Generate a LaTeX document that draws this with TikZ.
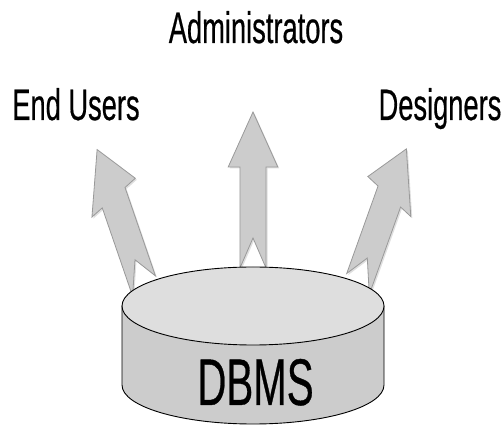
\documentclass[tikz,border=0pt]{standalone}
\usepackage{fontspec}
\setmainfont{Liberation Sans}
\newfontfamily\heavysans{Liberation Sans}[FakeBold=0.6]
\usetikzlibrary{shadows}

\def\arrowLen{156}
\def\headLen{55}
\def\headHalf{40}
\def\shaftHalf{21}
\def\notchDepth{30}

\def\cx{253}
\def\topY{122}
\def\botY{43}
\def\rx{131}
\def\ry{39}

\begin{document}
\begin{tikzpicture}[x=1pt, y=1pt,
    label/.style={font=\heavysans\fontsize{44}{50}\selectfont, xscale=0.62, anchor=base, inner sep=0pt},
    dbmstext/.style={font=\heavysans\fontsize{66}{70}\selectfont, xscale=0.61, anchor=base, inner sep=0pt},
    blockarrow/.style={fill=gray!40, draw=gray!80, line width=0.8pt, line join=miter,
      drop shadow={shadow xshift=1.5pt, shadow yshift=-1.5pt, opacity=0.25}},
    cylside/.style={fill=gray!40, draw=black, line width=0.9pt},
    cyltop/.style={fill=gray!26, draw=black, line width=0.9pt}]
      \useasboundingbox (0,0) rectangle (503,428);
      \node[label] (admin) at (256,385) {Administrators};
      \node[label] (endusers) at (76,308) {End Users};
      \node[label] (designers) at (440,308) {Designers};
      \coordinate (tailL) at (144,142);
      \coordinate (tailC) at (253,160);
      \coordinate (tailR) at (358,144);
      \foreach \t/\r in {tailL/29, tailC/0, tailR/-30} {
          \begin{scope}[shift={(\t)}, xscale=0.62, rotate=\r]
              \filldraw[blockarrow] (-\shaftHalf,0) -- (-\shaftHalf,\arrowLen-\headLen)
              -- (-\headHalf,\arrowLen-\headLen) -- (0,\arrowLen)
              -- (\headHalf,\arrowLen-\headLen) -- (\shaftHalf,\arrowLen-\headLen)
              -- (\shaftHalf,0) -- (0,\notchDepth) -- cycle;
          \end{scope}
      }
      \filldraw[cylside] (\cx-\rx,\topY) -- (\cx-\rx,\botY)
      arc[start angle=180, end angle=360, x radius=\rx, y radius=\ry]
      -- (\cx+\rx,\topY) -- cycle;
      \filldraw[cyltop] (\cx,\topY) ellipse [x radius=\rx, y radius=\ry];
      \node[dbmstext] (dbms) at (255.5,23) {DBMS};
    \end{tikzpicture}
\end{document}
